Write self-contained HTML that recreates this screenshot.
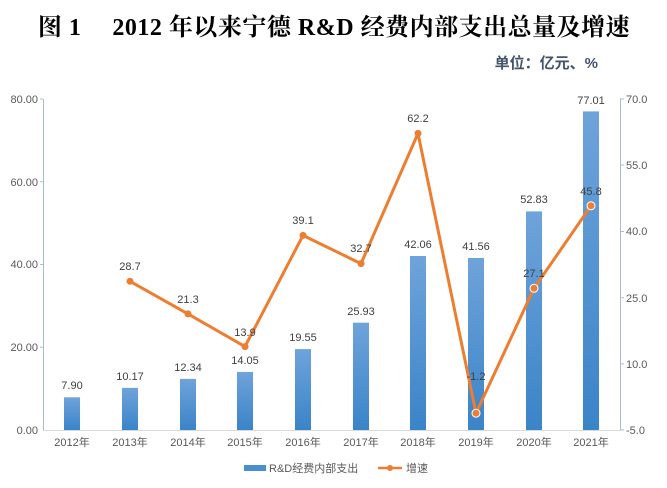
<!DOCTYPE html>
<html><head><meta charset="utf-8"><style>
body{margin:0;background:#fff;}
svg{display:block;font-family:"Liberation Sans","Noto Sans CJK SC",sans-serif;}
</style></head><body>
<svg width="667" height="488" viewBox="0 0 667 488" xmlns="http://www.w3.org/2000/svg">
<defs><linearGradient id="g" x1="0" y1="0" x2="0" y2="1"><stop offset="0" stop-color="#6fa3da"/><stop offset="1" stop-color="#3a84c8"/></linearGradient></defs>
<text x="334" y="35" text-anchor="middle" font-family="'Liberation Serif','Noto Serif CJK SC',serif" font-weight="bold" font-size="24" letter-spacing="0.5" fill="#000">图 1　 2012 年以来宁德 R&amp;D 经费内部支出总量及增速</text>
<text x="598" y="68" text-anchor="end" font-family="'Liberation Sans','Noto Sans CJK SC',sans-serif" font-weight="bold" font-size="15" fill="#44546a">单位：亿元、%</text>
<line x1="43.5" y1="99" x2="43.5" y2="430" stroke="#a9bcd6"/>
<line x1="620.5" y1="99" x2="620.5" y2="430" stroke="#a9bcd6"/>
<line x1="43" y1="430.5" x2="620" y2="430.5" stroke="#d9d9d9"/>
<g stroke="#a9bcd6"><line x1="40" y1="99" x2="43" y2="99"/><line x1="40" y1="181.75" x2="43" y2="181.75"/><line x1="40" y1="264.5" x2="43" y2="264.5"/><line x1="40" y1="347.25" x2="43" y2="347.25"/>
<line x1="620" y1="99" x2="624" y2="99"/><line x1="620" y1="165" x2="624" y2="165"/><line x1="620" y1="231.5" x2="624" y2="231.5"/><line x1="620" y1="297.7" x2="624" y2="297.7"/><line x1="620" y1="363.9" x2="624" y2="363.9"/><line x1="620" y1="430" x2="624" y2="430"/></g>
<g font-size="11" fill="#595959" text-anchor="end">
<text x="38" y="103">80.00</text><text x="38" y="186">60.00</text><text x="38" y="268">40.00</text><text x="38" y="351">20.00</text><text x="38" y="434">0.00</text></g>
<g font-size="11" fill="#595959" text-anchor="start">
<text x="626" y="103">70.0</text><text x="626" y="169">55.0</text><text x="626" y="235">40.0</text><text x="626" y="302">25.0</text><text x="626" y="368">10.0</text><text x="626" y="434">-5.0</text></g>
<g fill="url(#g)">
<rect x="64" y="397.3" width="16" height="32.7"/>
<rect x="122" y="387.9" width="16" height="42.1"/>
<rect x="180" y="378.9" width="16" height="51.1"/>
<rect x="237" y="371.9" width="16" height="58.1"/>
<rect x="295" y="349.1" width="16" height="80.9"/>
<rect x="353" y="322.7" width="16" height="107.3"/>
<rect x="410" y="256" width="16" height="174"/>
<rect x="468" y="258" width="16" height="172"/>
<rect x="526" y="211.4" width="16" height="218.6"/>
<rect x="583" y="111.4" width="16" height="318.6"/>
</g>
<g font-size="11" fill="#404040" text-anchor="middle">
<text x="72" y="389">7.90</text><text x="130" y="380">10.17</text><text x="188" y="371">12.34</text><text x="245" y="364">14.05</text><text x="303" y="341">19.55</text><text x="361" y="315">25.93</text><text x="418" y="248">42.06</text><text x="476" y="250">41.56</text><text x="534" y="203">52.83</text><text x="591" y="104">77.01</text>
</g>
<g font-size="11" fill="#595959" text-anchor="middle">
<text x="72" y="446">2012年</text><text x="130" y="446">2013年</text><text x="188" y="446">2014年</text><text x="245" y="446">2015年</text><text x="303" y="446">2016年</text><text x="361" y="446">2017年</text><text x="418" y="446">2018年</text><text x="476" y="446">2019年</text><text x="534" y="446">2020年</text><text x="591" y="446">2021年</text>
</g>
<polyline fill="none" stroke="#ed7d31" stroke-width="3" stroke-linejoin="round" points="130,281.3 188,313.9 245,346.6 303,235.4 361,263.6 418,133.4 476,413.2 534,288.3 591,205.8"/>
<g fill="#ed7d31">
<circle cx="130" cy="281.3" r="3.5"/><circle cx="188" cy="313.9" r="3.5"/><circle cx="245" cy="346.6" r="3.5"/><circle cx="303" cy="235.4" r="3.5"/><circle cx="361" cy="263.6" r="3.5"/><circle cx="418" cy="133.4" r="3.5"/>
<circle cx="476" cy="413.2" r="4" stroke="#fff" stroke-width="1"/><circle cx="534" cy="288.3" r="4" stroke="#fff" stroke-width="1"/><circle cx="591" cy="205.8" r="4" stroke="#fff" stroke-width="1"/>
</g>
<g font-size="11" fill="#404040" text-anchor="middle">
<text x="130" y="270">28.7</text><text x="188" y="303">21.3</text><text x="245" y="336">13.9</text><text x="303" y="224">39.1</text><text x="361" y="252">32.7</text><text x="418" y="122">62.2</text><text x="476" y="380">-1.2</text><text x="534" y="277">27.1</text><text x="591" y="195">45.8</text>
</g>
<rect x="244" y="465" width="22" height="6" fill="#4a8fd0"/>
<text x="269" y="472" font-size="11" fill="#595959">R&amp;D经费内部支出</text>
<line x1="378" y1="468" x2="402" y2="468" stroke="#ed7d31" stroke-width="2.5"/>
<circle cx="390" cy="468" r="3" fill="#ed7d31"/>
<text x="406" y="472" font-size="11" fill="#595959">增速</text>
</svg>
</body></html>
